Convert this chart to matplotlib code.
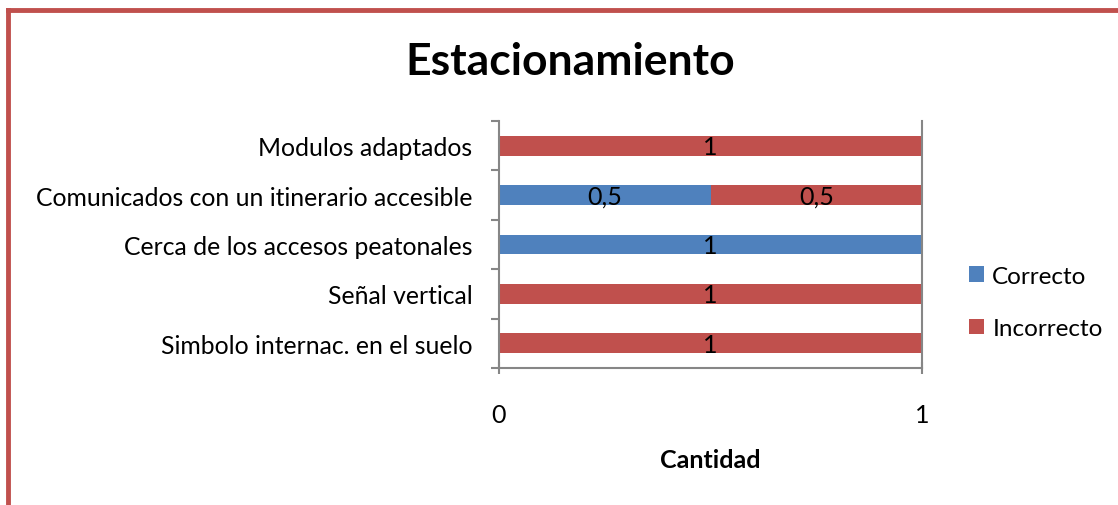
import numpy as np
import matplotlib.pyplot as plt
from matplotlib.lines import Line2D

# categorias de arriba hacia abajo
categorias = ["Modulos adaptados",
              "Comunicados con un itinerario accesible",
              "Cerca de los accesos peatonales",
              "Señal vertical",
              "Simbolo internac. en el suelo"]
correcto = [0, 0.5, 1, 0, 0]
incorrecto = [1, 0.5, 0, 1, 1]
series = ["Correcto", "Incorrecto"]
colores = ["#4F81BD", "#C0504D"]

plt.rcParams['font.family'] = ['Lato', 'DejaVu Sans']

fig = plt.figure(figsize=(11.18, 5.06), dpi=100)
ax = fig.add_axes([499 / 1118, 1 - 369 / 506, 423 / 1118, 247 / 506])

y = np.arange(len(categorias))[::-1]
b1 = ax.barh(y, correcto, height=0.4, color=colores[0], label=series[0])
b2 = ax.barh(y, incorrecto, left=correcto, height=0.4, color=colores[1], label=series[1])

# etiquetas de datos
for barras in (b1, b2):
    for r in barras:
        w = r.get_width()
        if w > 0:
            ax.text(r.get_x() + w / 2, r.get_y() + r.get_height() / 2 - 0.02,
                    f"{w:g}".replace(".", ","), ha="center", va="center",
                    fontsize=18, color="black")

ax.set_xlim(0, 1)
ax.set_ylim(-0.5, len(categorias) - 0.5)
ax.set_xticks([0, 1])
ax.set_xticklabels(["0", "1"], fontsize=18)
ax.set_yticks(y)
ax.set_yticklabels(categorias, fontsize=17.8)
ax.set_yticks(np.arange(-0.5, len(categorias)), minor=True)
ax.tick_params(axis="y", which="major", length=0, pad=19)
ax.tick_params(axis="y", which="minor", length=6, color="#868686", width=1.5)
ax.tick_params(axis="x", color="#868686", width=1.5, pad=21)
ax.xaxis.set_tick_params(which="major", direction="inout", length=8)

for s in ["top"]:
    ax.spines[s].set_visible(False)
for s in ["left", "bottom", "right"]:
    ax.spines[s].set_color("#868686")
    ax.spines[s].set_linewidth(1.5)

ax.set_xlabel("Cantidad", fontsize=18, fontweight="bold", labelpad=16)

fig.text(570 / 1118, 1 - 62 / 506, "Estacionamiento", fontsize=32,
         fontweight="bold", ha="center", va="center")

ax.legend(loc="center left", bbox_to_anchor=(1.06, 0.265), frameon=False,
          fontsize=17.5, handlelength=0.6, handleheight=0.6, handletextpad=0.35,
          labelspacing=1.3)

# borde rojo a la izquierda y arriba
fig.add_artist(Line2D([8 / 1118, 8 / 1118], [0, 1 - 11 / 506],
                      transform=fig.transFigure, color="#C0504D", lw=3.5))
fig.add_artist(Line2D([8 / 1118, 1], [1 - 11 / 506, 1 - 11 / 506],
                      transform=fig.transFigure, color="#C0504D", lw=3.5))

fig.savefig("out.png", dpi=100)
